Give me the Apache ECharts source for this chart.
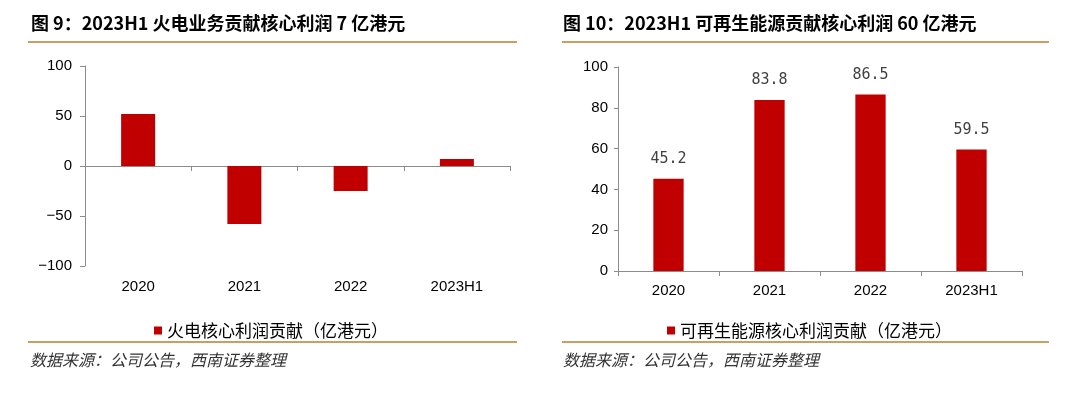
<!DOCTYPE html>
<html><head><meta charset="utf-8">
<script src="https://cdn.jsdelivr.net/npm/echarts@6/dist/echarts.min.js"></script>
<style>html,body{margin:0;padding:0;background:#fff}#c{width:1080px;height:399px}</style>
</head><body><div id="c"></div>
<script>
const categories = ['2020', '2021', '2022', '2023H1'];
const thermalProfit = [52, -58, -25, 7];
const renewableProfit = [45.2, 83.8, 86.5, 59.5];
const thermalName = '火电核心利润贡献（亿港元）';
const renewableName = '可再生能源核心利润贡献（亿港元）';
const leftTitle = '图 9：2023H1 火电业务贡献核心利润 7 亿港元';
const rightTitle = '图 10：2023H1 可再生能源贡献核心利润 60 亿港元';
const sourceText = '数据来源：公司公告，西南证券整理';

const RED = '#C00000';
const AXIS = '#8c8c8c';
const GOLD = '#C9A063';
const NUM_FONT = '"Liberation Sans", Arial, sans-serif';
const CJK_FONT = '"Noto Sans CJK SC", sans-serif';

const chart = echarts.init(document.getElementById('c'));
const axisLbl = {color: '#000', fontSize: 15, fontFamily: NUM_FONT};
const minusFmt = v => String(v).replace('-', '\u2212');

chart.setOption({
  animation: false,
  backgroundColor: '#fff',
  grid: [
    {left: 85, top: 66, width: 425, height: 200},
    {left: 618, top: 67, width: 404, height: 204}
  ],
  xAxis: [
    {type: 'category', gridIndex: 0, data: categories, position: 'bottom',
     axisLine: {show: false, onZero: false}, axisTick: {show: false},
     axisLabel: Object.assign({margin: 13}, axisLbl)},
    {type: 'category', gridIndex: 0, data: categories, position: 'bottom',
     axisLine: {show: true, onZero: true, lineStyle: {color: AXIS, width: 1}},
     axisTick: {show: true, length: 5, lineStyle: {color: AXIS}},
     axisLabel: {show: false}},
    {type: 'category', gridIndex: 1, data: categories, position: 'bottom',
     axisLine: {show: true, lineStyle: {color: AXIS, width: 1}},
     axisTick: {show: true, length: 5, lineStyle: {color: AXIS}},
     axisLabel: Object.assign({margin: 12}, axisLbl)}
  ],
  yAxis: [
    {type: 'value', gridIndex: 0, min: -100, max: 100, interval: 50,
     axisLine: {show: true, lineStyle: {color: AXIS}},
     axisTick: {show: true, length: 5, lineStyle: {color: AXIS}},
     splitLine: {show: false},
     axisLabel: Object.assign({margin: 13, formatter: minusFmt}, axisLbl)},
    {type: 'value', gridIndex: 1, min: 0, max: 100, interval: 20,
     axisLine: {show: true, lineStyle: {color: AXIS}},
     axisTick: {show: true, length: 4, lineStyle: {color: AXIS}},
     splitLine: {show: false},
     axisLabel: Object.assign({margin: 10}, axisLbl)}
  ],
  legend: [
    {data: [thermalName], left: 149, top: 317, icon: 'rect', itemWidth: 8, itemHeight: 8, itemGap: 5,
     textStyle: {color: '#000', fontSize: 17, fontFamily: CJK_FONT}},
    {data: [renewableName], left: 662, top: 317, icon: 'rect', itemWidth: 8, itemHeight: 8, itemGap: 5,
     textStyle: {color: '#000', fontSize: 17, fontFamily: CJK_FONT}}
  ],
  series: [
    {name: thermalName, type: 'bar', xAxisIndex: 0, yAxisIndex: 0, data: thermalProfit,
     barWidth: '32%', itemStyle: {color: RED}},
    {name: renewableName, type: 'bar', xAxisIndex: 2, yAxisIndex: 1, data: renewableProfit,
     barWidth: '30%', itemStyle: {color: RED},
     label: {show: true, position: 'top', distance: 12, color: '#404040', fontSize: 15,
             fontFamily: '"DejaVu Sans Mono", monospace'}}
  ],
  graphic: [
    {type: 'text', left: 31, top: 14, style: {text: leftTitle, fill: '#000', font: 'bold 18px ' + CJK_FONT}},
    {type: 'text', left: 563, top: 14, style: {text: rightTitle, fill: '#000', font: 'bold 18px ' + CJK_FONT}},
    {type: 'rect', shape: {x: 28, y: 41, width: 489, height: 2}, style: {fill: GOLD}},
    {type: 'rect', shape: {x: 562, y: 41, width: 487, height: 2}, style: {fill: GOLD}},
    {type: 'rect', shape: {x: 28, y: 341, width: 489, height: 2}, style: {fill: GOLD}},
    {type: 'rect', shape: {x: 562, y: 341, width: 487, height: 2}, style: {fill: GOLD}},
    {type: 'text', left: 30, top: 352, style: {text: sourceText, fill: '#333', font: 'italic 16px ' + CJK_FONT}},
    {type: 'text', left: 563, top: 352, style: {text: sourceText, fill: '#333', font: 'italic 16px ' + CJK_FONT}}
  ]
});
</script>
</body></html>
